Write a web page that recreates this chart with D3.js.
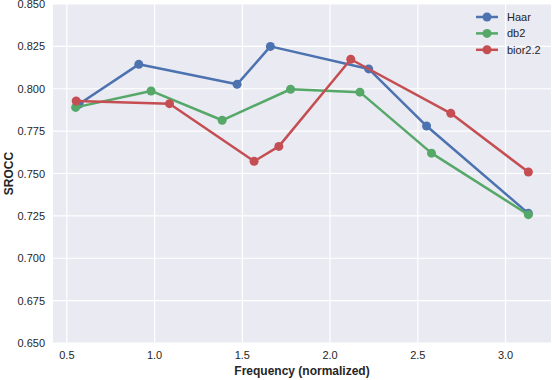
<!DOCTYPE html>
<html>
<head>
<meta charset="utf-8">
<script src="https://cdn.jsdelivr.net/npm/d3@7"></script>
<style>
  body { margin: 0; background: #fff; }
  svg text { font-family: "Liberation Sans", Arial, sans-serif; fill: #262626; }
</style>
</head>
<body>
<div id="chart"></div>
<script>
// series data
let haarX = [0.57, 0.91, 1.47, 1.66, 2.22, 2.55, 3.13];
let haarY = [0.791, 0.8144, 0.8026, 0.825, 0.8117, 0.778, 0.7265];
let db2X = [0.55, 0.98, 1.385, 1.775, 2.17, 2.578, 3.13];
let db2Y = [0.789, 0.7987, 0.7814, 0.7997, 0.798, 0.762, 0.7257];
let biorX = [0.553, 1.085, 1.567, 1.708, 2.118, 2.688, 3.13];
let biorY = [0.7928, 0.7912, 0.7572, 0.766, 0.8174, 0.7855, 0.7509];

let seriesNames = ["Haar", "db2", "bior2.2"];
let seriesColors = ["#4C72B0", "#55A868", "#C44E52"];
let xTicks = [0.5, 1.0, 1.5, 2.0, 2.5, 3.0];
let yTicks = [0.650, 0.675, 0.700, 0.725, 0.750, 0.775, 0.800, 0.825, 0.850];

let width = 552, height = 380,
    margin = {top: 4, right: 1, bottom: 37, left: 53};
let plotW = width - margin.left - margin.right,
    plotH = height - margin.top - margin.bottom;

let x = d3.scaleLinear().domain([0.421, 3.259]).range([0, plotW]);
let y = d3.scaleLinear().domain([0.650, 0.850]).range([plotH, 0]);

let svg = d3.select("#chart").append("svg")
    .attr("width", width)
    .attr("height", height);

let g = svg.append("g")
    .attr("transform", "translate(" + margin.left + "," + margin.top + ")");

// background + grid
g.append("rect")
    .attr("width", plotW)
    .attr("height", plotH)
    .attr("fill", "#EAEAF2");

g.selectAll(".gx").data(xTicks).enter().append("line")
    .attr("x1", d => x(d)).attr("x2", d => x(d))
    .attr("y1", 0).attr("y2", plotH)
    .attr("stroke", "#fff").attr("stroke-width", 1.2);

g.selectAll(".gy").data(yTicks).enter().append("line")
    .attr("x1", 0).attr("x2", plotW)
    .attr("y1", d => y(d)).attr("y2", d => y(d))
    .attr("stroke", "#fff").attr("stroke-width", 1.2);

// tick labels
g.selectAll(".xl").data(xTicks).enter().append("text")
    .attr("x", d => x(d))
    .attr("y", plotH + 16)
    .attr("text-anchor", "middle")
    .attr("font-size", 11)
    .text(d => d.toFixed(1));

g.selectAll(".yl").data(yTicks).enter().append("text")
    .attr("x", -8)
    .attr("y", d => y(d) + 4)
    .attr("text-anchor", "end")
    .attr("font-size", 11)
    .text(d => d.toFixed(3));

// axis labels
g.append("text")
    .attr("x", plotW / 2)
    .attr("y", plotH + 32)
    .attr("text-anchor", "middle")
    .attr("font-size", 12)
    .attr("font-weight", "bold")
    .text("Frequency (normalized)");

svg.append("text")
    .attr("transform", "translate(13," + (margin.top + plotH / 2) + ") rotate(-90)")
    .attr("text-anchor", "middle")
    .attr("font-size", 12)
    .attr("font-weight", "bold")
    .text("SROCC");

// lines
let series = [
    d3.zip(haarX, haarY),
    d3.zip(db2X, db2Y),
    d3.zip(biorX, biorY)
];

let line = d3.line().x(d => x(d[0])).y(d => y(d[1]));

series.forEach(function (s, i) {
    g.append("path")
        .datum(s)
        .attr("d", line)
        .attr("fill", "none")
        .attr("stroke", seriesColors[i])
        .attr("stroke-width", 2.5)
        .attr("stroke-linejoin", "round");
    g.selectAll(".pt" + i).data(s).enter().append("circle")
        .attr("cx", d => x(d[0]))
        .attr("cy", d => y(d[1]))
        .attr("r", 4.5)
        .attr("fill", seriesColors[i]);
});

// legend
let legend = svg.append("g").attr("transform", "translate(476,17)");
seriesNames.forEach(function (name, i) {
    let row = legend.append("g").attr("transform", "translate(0," + (i * 16.4) + ")");
    row.append("line")
        .attr("x1", 0).attr("x2", 22)
        .attr("stroke", seriesColors[i]).attr("stroke-width", 2.5);
    row.append("circle")
        .attr("cx", 11).attr("r", 4.5)
        .attr("fill", seriesColors[i]);
    row.append("text")
        .attr("x", 31).attr("y", 4)
        .attr("font-size", 11)
        .text(name);
});
</script>
</body>
</html>
